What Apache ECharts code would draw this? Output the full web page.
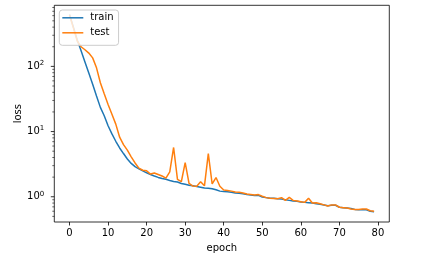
<!DOCTYPE html>
<html><head><meta charset="utf-8">
<script src="https://cdn.jsdelivr.net/npm/echarts@6/dist/echarts.min.js"></script>
<style>html,body{margin:0;padding:0;background:#fff}#c{width:429px;height:258px}</style>
</head><body><div id="c"></div>
<script>
const epochs = [0,1,2,3,4,5,6,7,8,9,10,11,12,13,14,15,16,17,18,19,20,21,22,23,24,25,26,27,28,29,30,31,32,33,34,35,36,37,38,39,40,41,42,43,44,45,46,47,48,49,50,51,52,53,54,55,56,57,58,59,60,61,62,63,64,65,66,67,68,69,70,71,72,73,74,75,76,77,78,79];
const trainLoss = [627,400,255,173,117,79,53,35,23.5,17.5,12.3,9.2,7.1,5.6,4.6,3.8,3.25,2.9,2.68,2.5,2.33,2.2,2.08,1.98,1.9,1.85,1.78,1.72,1.68,1.6,1.55,1.5,1.47,1.44,1.4,1.36,1.35,1.33,1.28,1.22,1.2,1.19,1.17,1.14,1.13,1.11,1.08,1.06,1.05,1.05,0.99,0.97,0.95,0.95,0.93,0.92,0.9,0.88,0.86,0.85,0.83,0.82,0.81,0.8,0.78,0.77,0.75,0.73,0.74,0.74,0.69,0.68,0.67,0.66,0.64,0.63,0.63,0.63,0.6,0.59];
const testLoss = [615,390,245,200,180,160,135,95,56,38,26,18.5,13,8.2,6.3,5.2,4.1,3.3,2.75,2.55,2.5,2.23,2.32,2.2,2.08,1.93,2.4,5.7,1.85,1.7,3.35,1.6,1.46,1.45,1.7,1.47,4.6,1.57,1.97,1.45,1.27,1.25,1.22,1.18,1.17,1.14,1.1,1.08,1.06,1.08,1.02,0.97,0.95,0.94,0.93,0.97,0.88,0.98,0.88,0.86,0.84,0.82,0.95,0.8,0.81,0.78,0.75,0.72,0.75,0.75,0.69,0.68,0.67,0.65,0.64,0.64,0.65,0.65,0.61,0.6];
const seriesNames = ['train','test'];
const xTicks = [0,10,20,30,40,50,60,70,80];
const yTicks = [1,10,100];
const yMinorTicks = [0.5,0.6,0.7,0.8,0.9,2,3,4,5,6,7,8,9,20,30,40,50,60,70,80,90,200,300,400,500,600,700,800];

const FONT = 'DejaVu Sans';
const X_MIN = -3.95, X_MAX = 82.95, Y_MIN = 0.41, Y_MAX = 865;
const chart = echarts.init(document.getElementById('c'), null, {renderer:'canvas'});
function pairs(vals){ return epochs.map((e,i)=>[e, vals[i]]); }
const txt = {fontFamily:FONT, fontSize:10, color:'#000'};

chart.setOption({
  animation:false,
  backgroundColor:'#fff',
  grid:{left:54.3, top:5.3, right:39.7, bottom:36, show:true, borderColor:'#000', borderWidth:0.8,
        backgroundColor:'transparent', containLabel:false, outerBoundsMode:'none'},
  legend:{
    orient:'vertical', left:59.3, top:10, padding:[1.8,5,6.5,3], itemGap:3,
    itemWidth:21, itemHeight:1.5, icon:'rect',
    backgroundColor:'rgba(255,255,255,0.8)', borderColor:'#cccccc', borderWidth:1, borderRadius:3,
    textStyle:Object.assign({lineHeight:12, padding:[0,0,0,2]}, txt),
    data:seriesNames
  },
  xAxis:{
    type:'value', min:X_MIN, max:X_MAX,
    name:'epoch', nameLocation:'middle', nameGap:21, nameMoveOverlap:false, nameTextStyle:txt,
    axisLine:{show:false}, splitLine:{show:false},
    axisTick:{show:true, length:3.5, lineStyle:{color:'#000', width:0.8}, customValues:xTicks},
    axisLabel:Object.assign({customValues:xTicks, margin:6}, txt)
  },
  yAxis:{
    type:'log', logBase:10, min:Y_MIN, max:Y_MAX,
    name:'loss', nameLocation:'middle', nameGap:31, nameMoveOverlap:false, nameTextStyle:txt,
    axisLine:{show:false}, splitLine:{show:false}, axisTick:{show:false}, minorTick:{show:false},
    axisLabel:{
      margin:10, color:'#000', fontFamily:FONT, fontSize:10,
      formatter:function(v){
        const l = Math.log10(v), e = Math.round(l);
        if (Math.abs(l - e) > 1e-6) return '';
        return '{b|10}{s|' + e + '}';
      },
      rich:{
        b:{fontFamily:FONT, fontSize:10, color:'#000'},
        s:{fontFamily:FONT, fontSize:7, color:'#000', padding:[0,0,6,0]}
      }
    }
  },
  series:[
    {name:seriesNames[0], type:'line', data:pairs(trainLoss), showSymbol:false, symbol:'none',
     lineStyle:{color:'#1f77b4', width:1.5}, itemStyle:{color:'#1f77b4'}, z:2},
    {name:seriesNames[1], type:'line', data:pairs(testLoss), showSymbol:false, symbol:'none',
     lineStyle:{color:'#ff7f0e', width:1.5}, itemStyle:{color:'#ff7f0e'}, z:3}
  ]
});

// y-axis major and minor ticks placed through the axis scale
const g = [];
function addTick(v, len, w){
  if (v < Y_MIN || v > Y_MAX) return;
  const p = chart.convertToPixel({gridIndex:0}, [X_MIN, v]);
  g.push({type:'line', silent:true, z:10,
    shape:{x1:p[0]-len, y1:p[1], x2:p[0], y2:p[1]},
    style:{stroke:'#000', lineWidth:w}});
}
yTicks.forEach(v=>addTick(v, 3.5, 0.8));
yMinorTicks.forEach(v=>addTick(v, 2, 0.6));
chart.setOption({graphic:g});
</script>
</body></html>
